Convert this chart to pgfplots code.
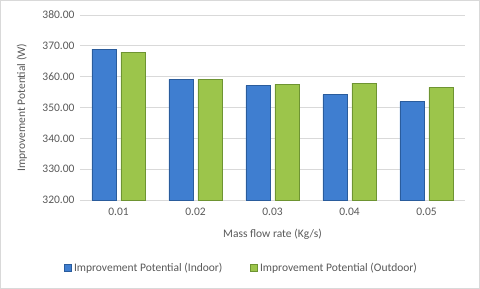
\documentclass[border=0pt]{standalone}
\usepackage{pgfplots}
\pgfplotsset{compat=1.18}
\usepackage{fontspec}
\setmainfont{Carlito}
\definecolor{txt}{HTML}{595959}
\definecolor{gridc}{HTML}{D9D9D9}
\definecolor{bmid}{HTML}{3F7ED0}
\definecolor{bdark}{HTML}{2A5C9C}
\definecolor{gmid}{HTML}{9CC54B}
\definecolor{gdark}{HTML}{6E9432}
\begin{document}
\begin{tikzpicture}
\draw[gridc, line width=0.8pt] (0.4pt,0.4pt) rectangle (479.6pt,288.6pt);
\begin{axis}[
  at={(80pt,89pt)}, anchor=south west,
  scale only axis, width=385pt, height=185pt,
  ymin=320, ymax=380, ytick={320,330,...,380},
  xmin=-0.5, xmax=4.5, xtick=data,
  xticklabels={0.01,0.02,0.03,0.04,0.05},
  ybar, bar width=24pt,
  axis x line*=bottom, axis y line*=left,
  x axis line style={gridc, line width=0.8pt, -},
  y axis line style={draw=none},
  ymajorgrids, grid style={gridc, line width=0.8pt},
  major tick length=0pt,
  tick label style={font=\fontsize{11.5}{14}\selectfont, text=txt},
  scaled y ticks=false,
  yticklabel={\pgfmathprintnumber[fixed,fixed zerofill,precision=2,assume math mode=true]{\tick}},
  every y tick label/.append style={xshift=-2pt},
  every x tick label/.append style={yshift=-5pt},
  xlabel={Mass flow rate (Kg/s)},
  ylabel={Improvement Potential (W)},
  label style={font=\fontsize{11.5}{14}\selectfont, text=txt},
  xlabel style={at={(axis description cs:0.5,-0.184)}, anchor=center},
  ylabel style={at={(axis description cs:-0.151,0.5)}, anchor=center, rotate=0},
  legend columns=2,
  legend style={at={(axis description cs:0.42,-0.368)}, anchor=center, draw=none,
    font=\fontsize{11.5}{14}\selectfont, text=txt,
    /tikz/every even column/.append style={column sep=26pt}},
  legend image code/.code={\fill[#1] (0pt,-3.5pt) rectangle (7pt,3.5pt);},
  clip=false,
]
\addplot[ybar, bar shift=-14.5pt, draw=bdark, fill=bmid, line width=0.6pt] coordinates {(0,368.9) (1,359.1) (2,357.1) (3,354.2) (4,351.9)};
\addplot[ybar, bar shift=14.5pt, draw=gdark, fill=gmid, line width=0.6pt] coordinates {(0,368.0) (1,359.1) (2,357.5) (3,357.9) (4,356.5)};
\legend{Improvement Potential (Indoor), Improvement Potential (Outdoor)}
\end{axis}
\end{tikzpicture}
\end{document}
